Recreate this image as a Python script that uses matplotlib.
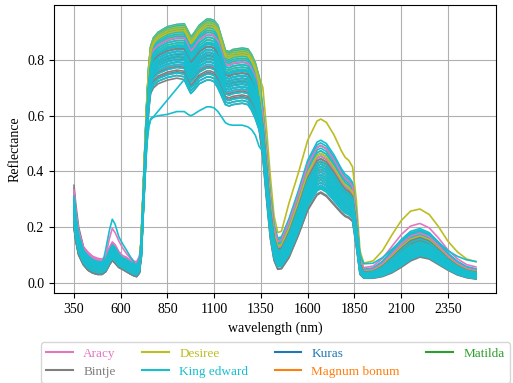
import numpy as np
import matplotlib
matplotlib.use("Agg")
import matplotlib.pyplot as plt
from matplotlib.lines import Line2D

plt.rcParams['font.family'] = ['Liberation Serif', 'DejaVu Serif']
plt.rcParams['font.size'] = 10

# ---------------- data ----------------
wavelength = [350, 360, 375, 400, 425, 450, 475, 500, 520, 540, 555, 570, 590, 610, 630, 650,
              670, 685, 700, 710, 720, 730, 740, 750, 760, 775, 800, 850, 900, 940, 960, 975,
              990, 1020, 1060, 1080, 1100, 1120, 1140, 1160, 1180, 1200, 1250, 1280, 1300, 1320,
              1340, 1360, 1380, 1400, 1420, 1440, 1460, 1500, 1550, 1600, 1650, 1670, 1700, 1740,
              1780, 1800, 1820, 1840, 1860, 1880, 1900, 1950, 2000, 2050, 2100, 2150, 2200, 2250,
              2300, 2350, 2400, 2450, 2500]

# lower and upper edge of the main bundle of spectra
low_edge = [0.20, 0.15, 0.10, 0.065, 0.045, 0.035, 0.030, 0.030, 0.040, 0.065, 0.080, 0.070, 0.055,
            0.048, 0.040, 0.032, 0.025, 0.022, 0.035, 0.09, 0.24, 0.38, 0.52, 0.62, 0.68, 0.70,
            0.715, 0.728, 0.735, 0.730, 0.700, 0.680, 0.690, 0.715, 0.728, 0.728, 0.722, 0.700,
            0.670, 0.640, 0.635, 0.640, 0.645, 0.640, 0.620, 0.590, 0.550, 0.450, 0.300, 0.160,
            0.080, 0.048, 0.050, 0.090, 0.170, 0.260, 0.315, 0.322, 0.310, 0.280, 0.250, 0.238,
            0.232, 0.220, 0.130, 0.030, 0.016, 0.016, 0.022, 0.035, 0.055, 0.078, 0.092, 0.085,
            0.065, 0.045, 0.028, 0.018, 0.013]
high_edge = [0.34, 0.26, 0.19, 0.13, 0.11, 0.095, 0.088, 0.085, 0.095, 0.13, 0.15, 0.14, 0.115,
             0.10, 0.095, 0.085, 0.078, 0.075, 0.095, 0.17, 0.33, 0.50, 0.66, 0.78, 0.85, 0.88,
             0.90, 0.92, 0.928, 0.930, 0.905, 0.884, 0.895, 0.925, 0.947, 0.947, 0.942, 0.925,
             0.880, 0.835, 0.830, 0.838, 0.843, 0.840, 0.820, 0.790, 0.740, 0.630, 0.480, 0.320,
             0.210, 0.160, 0.165, 0.230, 0.330, 0.440, 0.505, 0.512, 0.500, 0.460, 0.410, 0.390,
             0.380, 0.360, 0.250, 0.090, 0.050, 0.055, 0.080, 0.120, 0.160, 0.190, 0.200, 0.185,
             0.150, 0.110, 0.080, 0.060, 0.052]

varieties = ['Aracy', 'Bintje', 'Desiree', 'King edward', 'Kuras', 'Magnum bonum', 'Matilda']
colors = ['#e377c2', '#7f7f7f', '#bcbd22', '#17becf', '#1f77b4', '#ff7f0e', '#2ca02c']

# position of each spectrum inside the bundle (0 = lower edge, 1 = upper edge)
# per region: visible, NIR plateau, SWIR 1, SWIR 2
aracy_vis = [1.0, 0.95, 0.9, 0.85, 0.8, 0.75, 0.7, 0.9, 0.6, 0.5]
aracy_nir = [0.55, 0.45, 0.6, 0.4, 0.35, 0.5, 0.3, 0.7, 0.75, 0.25]
aracy_sw1 = [0.3, 0.5, 0.45, 0.35, 0.2, 0.6, 0.25, 0.9, 0.7, 0.4]
aracy_sw2 = [0.4, 0.6, 0.5, 0.45, 0.3, 0.7, 0.35, 1.12, 0.8, 0.5]

bintje_vis = [0.1, 0.0, 0.2, 0.15, 0.05, 0.3, 0.25, 0.1, 0.35, 0.2, 0.4, 0.0, 0.15, 0.3]
bintje_nir = [0.0, 0.05, 0.1, 0.15, 0.2, 0.25, 0.3, 0.35, 0.4, 0.45, 0.5, 0.12, 0.22, 0.55]
bintje_sw1 = [0.0, 0.02, 0.15, 0.3, 0.35, 0.4, 0.5, 0.25, 0.45, 0.55, 0.6, 0.1, 0.2, 0.65]
bintje_sw2 = [0.0, 0.03, 0.15, 0.3, 0.35, 0.4, 0.5, 0.25, 0.45, 0.55, 0.6, 0.1, 0.2, 0.65]

desiree_vis = [0.3, 0.4, 0.5, 0.2, 0.35, 0.45, 0.25, 0.55, 0.3, 0.4, 0.2, 0.5]
desiree_nir = [1.0, 0.98, 0.95, 0.9, 0.85, 0.8, 0.75, 0.7, 0.65, 0.6, 0.92, 0.88]
desiree_sw1 = [1.4, 0.9, 0.8, 0.7, 0.6, 0.55, 0.45, 0.35, 0.75, 0.65, 0.5, 0.3]
desiree_sw2 = [1.6, 0.85, 0.75, 0.65, 0.55, 0.5, 0.4, 0.3, 0.7, 0.6, 0.45, 0.25]

king_vis = [0.0, 0.05, 0.1, 0.15, 0.2, 0.25, 0.3, 0.35, 0.4, 0.45, 0.5, 0.55, 0.6, 0.65, 0.7,
            0.75, 0.8, 0.3, 0.2, 0.1, 0.4, 0.5, 0.6, 0.7, 0.6, 0.5, 0.4, 0.5]
king_nir = [1.0, 0.97, 0.93, 0.9, 0.86, 0.82, 0.78, 0.74, 0.7, 0.66, 0.62, 0.58, 0.54, 0.5, 0.46,
            0.42, 0.38, 0.34, 0.3, 0.26, 0.2, 0.1, 0.05, 0.0, 0.0, 0.3, 0.6, 0.5]
king_sw1 = [1.0, 0.95, 0.9, 0.85, 0.8, 0.75, 0.7, 0.65, 0.6, 0.55, 0.5, 0.45, 0.4, 0.35, 0.3,
            0.25, 0.2, 0.15, 0.1, 0.08, 0.5, 0.3, 0.2, 0.12, 0.3, 0.35, 0.6, 0.5]
king_sw2 = [0.95, 0.9, 0.85, 0.8, 0.75, 0.7, 0.65, 0.6, 0.55, 0.5, 0.45, 0.4, 0.35, 0.3, 0.25,
            0.2, 0.15, 0.1, 0.08, 0.05, 0.6, 0.3, 0.2, 0.12, 0.3, 0.35, 0.6, 0.5]

# spectra that leave the bundle: values read directly at some wavelengths
bintje_blue_spike = {350: 0.35, 360: 0.28, 375: 0.20, 400: 0.13}
aracy_green_peak = {540: 0.16, 555: 0.195, 570: 0.18, 590: 0.15, 610: 0.125, 630: 0.105, 650: 0.09}
desiree_swir_high = {1420: 0.24, 1440: 0.18, 1460: 0.185}
king_low_plateau = {740: 0.50, 750: 0.56, 760: 0.585, 775: 0.595, 800: 0.60, 850: 0.605,
                    900: 0.615, 940: 0.615, 960: 0.605, 975: 0.600, 990: 0.605, 1020: 0.618,
                    1060: 0.632, 1080: 0.632, 1100: 0.628, 1120: 0.615, 1140: 0.595, 1160: 0.575,
                    1180: 0.568, 1200: 0.566, 1250: 0.566, 1280: 0.560, 1300: 0.550,
                    1320: 0.530, 1340: 0.490}
king_gap_start = {740: 0.50, 750: 0.56, 760: 0.59, 775: 0.596}
king_gap_missing = [800, 850, 900]
king_green_peak = {520: 0.12, 540: 0.19, 555: 0.228, 570: 0.21, 590: 0.165, 610: 0.14,
                   630: 0.118, 650: 0.095, 670: 0.075}
king_swir2_high = {1880: 0.10, 1900: 0.068, 1950: 0.07, 2000: 0.09, 2050: 0.12, 2100: 0.15,
                   2150: 0.175, 2200: 0.185, 2250: 0.175, 2300: 0.145, 2350: 0.115, 2400: 0.095,
                   2450: 0.082, 2500: 0.076}

# which curve (index) of a variety carries which read-off values
overrides = {('Bintje', 0): (bintje_blue_spike, []),
             ('Aracy', 0): (aracy_green_peak, []),
             ('Desiree', 0): (desiree_swir_high, []),
             ('King edward', 23): (king_low_plateau, []),
             ('King edward', 24): (king_gap_start, king_gap_missing),
             ('King edward', 25): (king_green_peak, []),
             ('King edward', 26): (king_swir2_high, [])}

weights = {'Aracy': (aracy_vis, aracy_nir, aracy_sw1, aracy_sw2),
           'Bintje': (bintje_vis, bintje_nir, bintje_sw1, bintje_sw2),
           'Desiree': (desiree_vis, desiree_nir, desiree_sw1, desiree_sw2),
           'King edward': (king_vis, king_nir, king_sw1, king_sw2)}

# ---------------- figure ----------------
wl = np.array(wavelength, dtype=float)
lo = np.array(low_edge)
hi = np.array(high_edge)

fig = plt.figure(figsize=(5.13, 3.83), dpi=100)
ax = fig.add_axes([0.105, 0.235, 0.862, 0.752])
ax.grid(True, color='#b0b0b0', linewidth=0.8)
ax.set_axisbelow(True)

# samples are drawn interleaved (round robin over the varieties)
n_max = max(len(w[0]) for w in weights.values())
for i in range(n_max):
    for name, color in zip(varieties, colors):
        if name not in weights:
            continue
        wv, wn, w1, w2 = weights[name]
        if i >= len(wv):
            continue
        w = np.where(wl <= 700, wv[i], np.where(wl <= 1340, wn[i], np.where(wl <= 1880, w1[i], w2[i])))
        spec = lo + w * (hi - lo)
        keep = np.ones(len(wl), dtype=bool)
        if (name, i) in overrides:
            vals, missing = overrides[(name, i)]
            for k, v in vals.items():
                spec[wavelength.index(k)] = v
            for k in missing:
                keep[wavelength.index(k)] = False
        ax.plot(wl[keep], spec[keep], color=color, linewidth=1.2)

ax.set_xticks([350, 600, 850, 1100, 1350, 1600, 1850, 2100, 2350])
ax.set_yticks([0.0, 0.2, 0.4, 0.6, 0.8])
ax.set_xlim(242.5, 2607.5)
ax.set_ylim(-0.037, 0.998)
ax.set_xlabel('wavelength (nm)')
ax.set_ylabel('Reflectance')

handles = [Line2D([], [], color=c, linewidth=1.5) for c in colors]
leg = fig.legend(handles, varieties, loc='upper center', bbox_to_anchor=(0.537, 0.106),
                 ncol=4, fontsize=9.5, borderaxespad=0, labelspacing=0.45)
for t, c in zip(leg.get_texts(), colors):
    t.set_color(c)

fig.savefig('out.png', dpi=100)
